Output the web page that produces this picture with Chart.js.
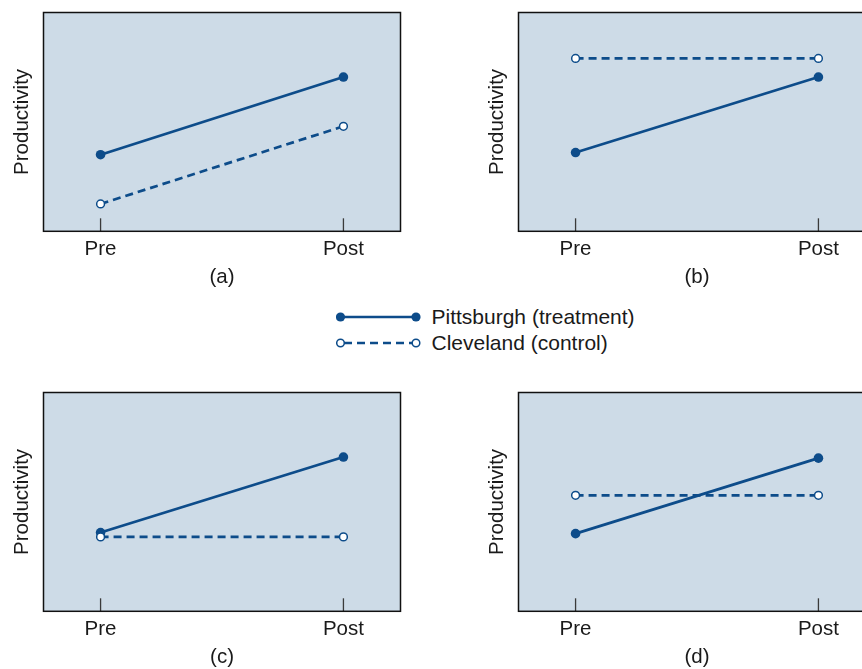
<!DOCTYPE html>
<html>
<head>
<meta charset="utf-8">
<script src="https://cdn.jsdelivr.net/npm/chart.js@4.4.1/dist/chart.umd.min.js"></script>
<style>
  html, body { margin: 0; padding: 0; background: #fff; overflow: hidden; }
  body { width: 862px; height: 669px; position: relative; font-family: "Liberation Sans", Arial, sans-serif; color: #1a1a1a; }
  .panel { position: absolute; width: 430px; height: 300px; }
  .legend-row { position: absolute; left: 336px; height: 26px; line-height: 26px; font-size: 21px; white-space: nowrap; }
  .legend-row svg { position: absolute; left: 0; top: 0; }
  .legend-row span { position: absolute; left: 95.5px; top: 0; }
</style>
</head>
<body>
<div class="panel" style="left:0px; top:0px;"><canvas id="chartA" width="430" height="300"></canvas></div>
<div class="panel" style="left:474.5px; top:0px;"><canvas id="chartB" width="430" height="300"></canvas></div>
<div class="panel" style="left:0px; top:380px;"><canvas id="chartC" width="430" height="300"></canvas></div>
<div class="panel" style="left:474.5px; top:380px;"><canvas id="chartD" width="430" height="300"></canvas></div>

<div class="legend-row" style="top:304px;">
  <svg width="90" height="26"><line x1="4.5" y1="13" x2="80" y2="13" stroke="#0d4c8a" stroke-width="2.6"/><circle cx="4.5" cy="13" r="4.6" fill="#0d4c8a"/><circle cx="80" cy="13" r="4.6" fill="#0d4c8a"/></svg>
  <span>Pittsburgh (treatment)</span>
</div>
<div class="legend-row" style="top:330px;">
  <svg width="90" height="26"><line x1="8" y1="13" x2="76" y2="13" stroke="#0d4c8a" stroke-width="2.6" stroke-dasharray="8 5"/><circle cx="4.5" cy="13" r="3.8" fill="#fff" stroke="#0d4c8a" stroke-width="1.5"/><circle cx="80" cy="13" r="3.8" fill="#fff" stroke="#0d4c8a" stroke-width="1.5"/></svg>
  <span>Cleveland (control)</span>
</div>

<script>
// Data (productivity on a 0-100 relative scale)
const periods = ['Pre', 'Post'];
const panelLabels = ['(a)', '(b)', '(c)', '(d)'];

const pittsburghA = [35, 70.5];
const clevelandA = [12.5, 48];
const pittsburghB = [36, 70.5];
const clevelandB = [79, 79];
const pittsburghC = [36, 70.5];
const clevelandC = [34, 34];
const pittsburghD = [35.5, 70];
const clevelandD = [53, 53];

const lineBlue = '#0d4c8a';
const panelBg = '#cddbe7';

Chart.defaults.font.family = "'Liberation Sans', Arial, sans-serif";
Chart.defaults.color = '#1a1a1a';

// fills the plot area, draws the frame and the inward tick marks
const framePlugin = {
  id: 'panelFrame',
  beforeDraw(chart) {
    const { ctx, chartArea: a } = chart;
    ctx.save();
    ctx.fillStyle = panelBg;
    ctx.fillRect(a.left, a.top, a.right - a.left, a.bottom - a.top);
    ctx.restore();
  },
  afterDraw(chart) {
    const { ctx, chartArea: a } = chart;
    const xScale = chart.scales.x;
    ctx.save();
    ctx.strokeStyle = '#3a3a3a';
    ctx.lineWidth = 1.3;
    xScale.ticks.forEach(t => {
      const px = xScale.getPixelForValue(t.value);
      ctx.beginPath();
      ctx.moveTo(px, a.bottom);
      ctx.lineTo(px, a.bottom - 13);
      ctx.stroke();
    });
    ctx.strokeStyle = '#111';
    ctx.lineWidth = 1.5;
    ctx.strokeRect(a.left, a.top, a.right - a.left, a.bottom - a.top);
    ctx.restore();
  }
};

function toPoints(values) {
  return values.map((v, i) => ({ x: i, y: v }));
}

function makePanel(canvasId, pitt, clev, label) {
  new Chart(document.getElementById(canvasId), {
    type: 'line',
    data: {
      datasets: [
        {
          label: 'Pittsburgh (treatment)',
          data: toPoints(pitt),
          borderColor: lineBlue,
          backgroundColor: lineBlue,
          borderWidth: 2.7,
          pointRadius: 4.8,
          pointBorderWidth: 0,
          pointBackgroundColor: lineBlue,
          order: 1
        },
        {
          label: 'Cleveland (control)',
          data: toPoints(clev),
          borderColor: lineBlue,
          backgroundColor: '#fff',
          borderWidth: 2.7,
          borderDash: [8, 5],
          pointRadius: 3.9,
          pointBorderWidth: 1.5,
          pointBorderColor: lineBlue,
          pointBackgroundColor: '#fff',
          order: 0
        }
      ]
    },
    options: {
      responsive: false,
      animation: false,
      layout: { padding: { left: 0, top: 12.5, right: 29.5, bottom: 10 } },
      plugins: { legend: { display: false }, tooltip: { enabled: false } },
      scales: {
        x: {
          type: 'linear',
          min: -0.235,
          max: 1.235,
          afterBuildTicks: scale => { scale.ticks = periods.map((p, i) => ({ value: i })); },
          ticks: {
            callback: v => periods[v],
            font: { size: 20.5 },
            padding: 6,
            color: '#1a1a1a',
            maxRotation: 0
          },
          grid: { display: false, drawTicks: false },
          border: { display: false },
          title: {
            display: true,
            text: label,
            font: { size: 20.5 },
            color: '#1a1a1a',
            padding: { top: -2.5, bottom: 0 }
          }
        },
        y: {
          min: 0,
          max: 100,
          ticks: { display: false },
          grid: { display: false, drawTicks: false },
          border: { display: false },
          title: {
            display: true,
            text: 'Productivity',
            font: { size: 20.5 },
            color: '#1a1a1a',
            padding: { top: 9.8, bottom: 9.1 }
          }
        }
      }
    },
    plugins: [framePlugin]
  });
}

makePanel('chartA', pittsburghA, clevelandA, panelLabels[0]);
makePanel('chartB', pittsburghB, clevelandB, panelLabels[1]);
makePanel('chartC', pittsburghC, clevelandC, panelLabels[2]);
makePanel('chartD', pittsburghD, clevelandD, panelLabels[3]);
</script>
</body>
</html>
